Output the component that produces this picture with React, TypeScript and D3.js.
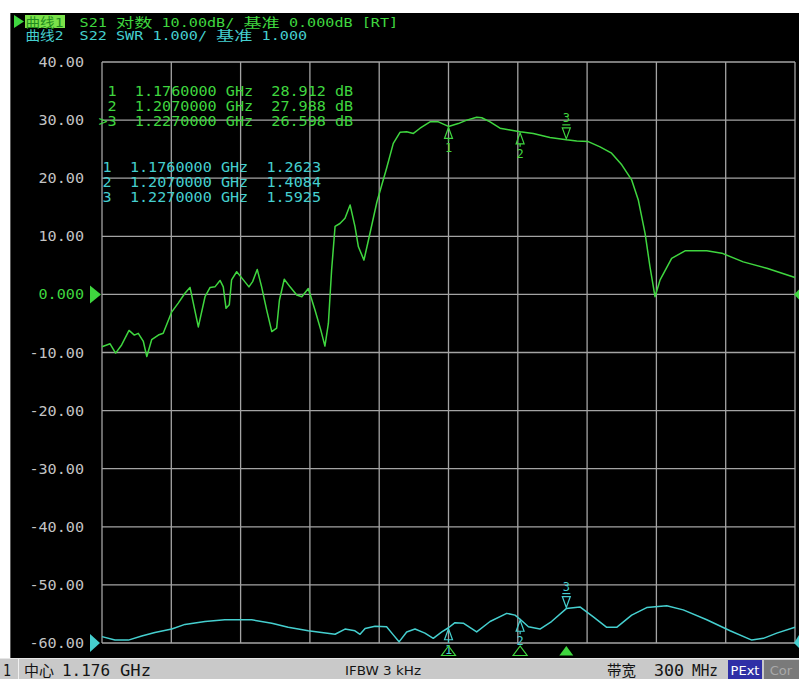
import * as d3 from "d3";

const W = 799;
const H = 679;
const P = { left: 102, right: 795, top: 62, bottom: 643 };
const CELL = 9.1;
const MONO = "'DejaVu Sans Mono', 'Noto Sans CJK SC', monospace";

const GREEN = "#3fd63f";
const CYAN = "#45cfcf";
const GRID = "#a4a4a4";

// sweep: centre 1.176 GHz, span 300 MHz
const START_MHZ = 1026;
const STOP_MHZ = 1326;
const gridFreqs = d3.range(START_MHZ, STOP_MHZ + 1, 30);

const dbTicks = [40, 30, 20, 10, 0, -10, -20, -30, -40, -50, -60];
const dbTickLabels = ["40.00", "30.00", "20.00", "10.00", "0.000", "-10.00", "-20.00", "-30.00", "-40.00", "-50.00", "-60.00"];

// S21, log mag (dB)
const s21Freq = [
  1026, 1029.5, 1031.9, 1034.5, 1037.7, 1040, 1041.7, 1043.9, 1045.4, 1047.5, 1050.4, 1052.5,
  1056.2, 1059, 1061.9, 1064.1, 1067.7, 1070.6, 1072.8, 1074.9, 1077.1, 1078.5, 1079.7, 1081.1,
  1082.1, 1084.3, 1087.2, 1089.6, 1091.2, 1093.2, 1095.1, 1097.3, 1099.5, 1101.6, 1102.8, 1104.9,
  1107.4, 1110.3, 1112.5, 1115.3, 1118.2, 1120.7, 1122.5, 1124, 1125.4, 1126.9, 1129, 1131.2,
  1133.4, 1135.5, 1137, 1139.4, 1141.6, 1145, 1149.2, 1152.1, 1155, 1157.9, 1160.8, 1163.7,
  1168, 1171.6, 1176, 1180.2, 1183.9, 1188.2, 1190.4, 1194, 1198.3, 1202.6, 1207, 1212.7,
  1219.9, 1227, 1231.5, 1236.5, 1241.6, 1246.6, 1251, 1255.3, 1258.2, 1261.1, 1263.2, 1265.4,
  1267.6, 1272.6, 1278.4, 1287.8, 1294.3, 1303.6, 1313.8, 1326,
];
const s21Db = [
  -9.0, -8.5, -10.1, -8.7, -6.2, -7.0, -6.7, -8.1, -10.7, -7.8, -7.0, -6.7,
  -3.0, -1.5, 0.2, 1.2, -5.6, -0.4, 1.2, 1.3, 2.4, 1.3, -2.4, -1.8,
  2.5, 3.9, 2.5, 1.3, 2.2, 4.3, 1.3, -2.7, -6.4, -5.8, -1.0, 2.6,
  1.3, -0.1, -0.4, 1.0, -2.7, -6.1, -8.9, -5.0, 4.2, 11.7, 12.2, 13.1,
  15.4, 11.7, 8.2, 5.9, 9.8, 15.9, 21.7, 26.0, 27.9, 28.0, 27.7, 28.6,
  29.7, 29.7, 28.912, 29.4, 30.0, 30.5, 30.4, 29.7, 28.6, 28.3, 27.988, 27.7,
  27.0, 26.598, 26.4, 26.3, 25.4, 24.3, 22.3, 19.7, 16.2, 10.5, 4.8, -0.4,
  2.5, 6.2, 7.5, 7.5, 7.1, 5.6, 4.5, 2.9,
];

// S22, SWR
const s22Freq = [
  1026, 1031.6, 1037.4, 1043.2, 1048.9, 1056.2, 1061.9, 1070.6, 1079.2, 1090.8, 1099.5, 1106.6,
  1115.3, 1121.1, 1126.9, 1131.2, 1135.5, 1137.7, 1139.9, 1144.2, 1149.2, 1152.1, 1154.6, 1157.9,
  1161.5, 1165.8, 1169.4, 1173.1, 1176, 1178.8, 1182.4, 1188.2, 1194, 1201.2, 1204.8, 1207,
  1210.6, 1215.6, 1220.6, 1227, 1232.9, 1238.7, 1244.5, 1248.8, 1255.3, 1261.8, 1270.5, 1277.6,
  1287.8, 1297.9, 1307.3, 1312.3, 1318.1, 1326,
];
const s22Swr = [
  1.11, 1.05, 1.05, 1.12, 1.18, 1.24, 1.32, 1.37, 1.4, 1.4, 1.34, 1.27,
  1.21, 1.18, 1.15, 1.24, 1.21, 1.15, 1.25, 1.29, 1.28, 1.14, 1.02, 1.19,
  1.24, 1.17, 1.08, 1.19, 1.2623, 1.35, 1.34, 1.19, 1.37, 1.51, 1.48, 1.4084,
  1.28, 1.24, 1.37, 1.5925, 1.62, 1.45, 1.27, 1.27, 1.48, 1.61, 1.64, 1.57,
  1.4, 1.21, 1.05, 1.08, 1.17, 1.27,
];

const markerIds = [1, 2, 3];
const markerFreq = [1176, 1207, 1227];
const markerS21 = [28.912, 27.988, 26.598];
const markerS22 = [1.2623, 1.4084, 1.5925];
const activeMarker = 3;

const x = d3.scaleLinear().domain([START_MHZ, STOP_MHZ]).range([P.left, P.right]);
const yDb = d3.scaleLinear().domain([-60, 40]).range([P.bottom, P.top]);
const ySwr = d3.scaleLinear().domain([1, 11]).range([P.bottom, P.top]);

// lay text on a fixed character grid (CJK takes two cells), like the analyser screen
function MonoText({ x: x0, y, text, fill, anchor = "start", size = 14 }: {
  x: number; y: number; text: string; fill: string; anchor?: "start" | "end"; size?: number;
}) {
  const runs: { s: string; c0: number; c1: number }[] = [];
  let col = 0;
  let buf = "";
  let start = 0;
  const flush = () => {
    if (buf) runs.push({ s: buf, c0: start, c1: col });
    buf = "";
  };
  for (const ch of text) {
    if (ch === " ") {
      flush();
      col += 1;
      continue;
    }
    if (!buf) start = col;
    buf += ch;
    col += ch.charCodeAt(0) > 0x2e7f ? 2 : 1;
  }
  flush();
  const left = anchor === "end" ? x0 - col * CELL : x0;
  return (
    <g fill={fill} fontFamily={MONO} fontSize={size}>
      {runs.map((r, i) => (
        <text key={i} x={left + r.c0 * CELL} y={y} textLength={(r.c1 - r.c0) * CELL} lengthAdjust="spacingAndGlyphs">
          {r.s}
        </text>
      ))}
    </g>
  );
}

function Marker({ px, py, id, active, color }: { px: number; py: number; id: number; active: boolean; color: string }) {
  if (active) {
    return (
      <g stroke={color} fill="none" strokeWidth={1.2}>
        <path d={`M${px},${py - 1} L${px - 4},${py - 12} L${px + 4},${py - 12} Z`} />
        <line x1={px - 4} x2={px + 4} y1={py - 15} y2={py - 15} />
        <text x={px} y={py - 18} textAnchor="middle" fontFamily={MONO} fontSize={12} fill={color} stroke="none">
          {id}
        </text>
      </g>
    );
  }
  return (
    <g stroke={color} fill="none" strokeWidth={1.2}>
      <path d={`M${px},${py + 1} L${px - 4},${py + 12} L${px + 4},${py + 12} Z`} />
      <line x1={px} x2={px} y1={py + 12} y2={py + 15} />
      <text x={px} y={py + 26} textAnchor="middle" fontFamily={MONO} fontSize={12} fill={color} stroke="none">
        {id}
      </text>
    </g>
  );
}

export default function App() {
  const s21Path =
    d3.line<number>().x((_, i) => x(s21Freq[i])).y((d) => yDb(d))(s21Db) ?? "";
  const s22Path =
    d3.line<number>().x((_, i) => x(s22Freq[i])).y((d) => ySwr(d))(s22Swr) ?? "";

  const fmtF = (f: number) => (f / 1000).toFixed(7);

  return (
    <svg width={W} height={H} viewBox={`0 0 ${W} ${H}`} style={{ position: "absolute", left: 0, top: 0 }}>
      <rect x={0} y={0} width={W} height={H} fill="#ffffff" />
      {/* screen */}
      <rect x={10} y={13} width={W - 10} height={645} fill="#000000" />
      <line x1={10.5} x2={10.5} y1={13} y2={658} stroke="#5a5a5a" />

      {/* header */}
      <path d="M14,15 L24,21.5 L14,28 Z" fill={GREEN} />
      <rect x={25} y={15} width={40} height={13} fill="#7be24a" />
      <text x={25.5} y={26.5} fontFamily={MONO} fontSize={13} fill="#1f8a1f" textLength={38} lengthAdjust="spacingAndGlyphs">
        曲线1
      </text>
      <MonoText x={25} y={26.5} text="      S21 对数 10.00dB/ 基准 0.000dB [RT]" fill={GREEN} size={13} />
      <text x={25.5} y={40} fontFamily={MONO} fontSize={13} fill={CYAN} textLength={38} lengthAdjust="spacingAndGlyphs">
        曲线2
      </text>
      <MonoText x={25} y={40} text="      S22 SWR 1.000/ 基准 1.000" fill={CYAN} size={13} />

      {/* grid */}
      <g stroke={GRID} strokeWidth={1.3}>
        {dbTicks.map((t) => (
          <line key={`h${t}`} x1={P.left} x2={P.right} y1={yDb(t)} y2={yDb(t)} />
        ))}
        {gridFreqs.map((f) => (
          <line key={`v${f}`} x1={x(f)} x2={x(f)} y1={P.top} y2={P.bottom} />
        ))}
      </g>

      {/* y labels */}
      {dbTicks.map((t, i) => (
        <MonoText key={`l${t}`} x={84} y={yDb(t) + 5} text={dbTickLabels[i]} fill={t === 0 ? GREEN : "#c4c4c4"} anchor="end" />
      ))}
      <path d={`M90,${yDb(0) - 9} L101,${yDb(0)} L90,${yDb(0) + 9} Z`} fill={GREEN} />
      <path d={`M90,${ySwr(1) - 9} L100,${ySwr(1)} L90,${ySwr(1) + 9} Z`} fill={CYAN} />
      <path d={`M799,${yDb(0) - 5} L794,${yDb(0)} L799,${yDb(0) + 5} Z`} fill={GREEN} />
      <path d={`M799,${ySwr(1) - 8} L794,${ySwr(1)} L799,${ySwr(1) + 5} Z`} fill={CYAN} />

      {/* marker tables */}
      {markerIds.map((id, i) => (
        <MonoText
          key={`g${id}`}
          x={98.4}
          y={96 + i * 15}
          text={`${id === activeMarker ? ">" : " "}${id}  ${fmtF(markerFreq[i])} GHz  ${markerS21[i].toFixed(3)} dB`}
          fill={GREEN}
        />
      ))}
      {markerIds.map((id, i) => (
        <MonoText
          key={`c${id}`}
          x={102.6}
          y={172 + i * 15}
          text={`${id}  ${fmtF(markerFreq[i])} GHz  ${markerS22[i].toFixed(4)}`}
          fill={CYAN}
        />
      ))}

      {/* traces */}
      <path d={s22Path} fill="none" stroke={CYAN} strokeWidth={1.5} strokeLinejoin="round" />
      <path d={s21Path} fill="none" stroke={GREEN} strokeWidth={1.5} strokeLinejoin="round" />

      {/* markers on traces */}
      {markerIds.map((id, i) => (
        <Marker key={`m21${id}`} px={x(markerFreq[i])} py={yDb(markerS21[i])} id={id} active={id === activeMarker} color={GREEN} />
      ))}
      {markerIds.map((id, i) => (
        <Marker key={`m22${id}`} px={x(markerFreq[i])} py={ySwr(markerS22[i])} id={id} active={id === activeMarker} color={CYAN} />
      ))}

      {/* stimulus markers under the grid */}
      {markerIds.map((id, i) => {
        const px = x(markerFreq[i]);
        const d = `M${px},646 L${px - 7},655.5 L${px + 7},655.5 Z`;
        return id === activeMarker ? (
          <path key={`b${id}`} d={d} fill={GREEN} />
        ) : (
          <path key={`b${id}`} d={d} fill="none" stroke={GREEN} strokeWidth={1.2} />
        );
      })}

      {/* status bar */}
      <rect x={0} y={658} width={W} height={21} fill="#c9c9c9" />
      <line x1={0} x2={W} y1={658.5} y2={658.5} stroke="#e6e6e6" />
      <line x1={18.5} x2={18.5} y1={659} y2={679} stroke="#f0f0f0" />
      <g fill="#141414" fontFamily={MONO} fontSize={15}>
        <text x={3} y={676} textLength={8} lengthAdjust="spacingAndGlyphs">1</text>
        <text x={24} y={676} textLength={30} lengthAdjust="spacingAndGlyphs">中心</text>
        <text x={62} y={676} textLength={48} lengthAdjust="spacingAndGlyphs">1.176</text>
        <text x={120} y={676} textLength={31} lengthAdjust="spacingAndGlyphs">GHz</text>
        <text x={607} y={676} textLength={29} lengthAdjust="spacingAndGlyphs">带宽</text>
        <text x={654} y={676} textLength={30} lengthAdjust="spacingAndGlyphs">300</text>
        <text x={692} y={676} textLength={26} lengthAdjust="spacingAndGlyphs">MHz</text>
      </g>
      <text x={345} y={675} fontFamily="'DejaVu Sans', sans-serif" fontSize={12} fill="#141414" textLength={76} lengthAdjust="spacingAndGlyphs">
        IFBW 3 kHz
      </text>
      <rect x={728} y={660} width={34} height={19} fill="#2f2fa6" />
      <text x={745} y={675} textAnchor="middle" fontFamily="'DejaVu Sans', sans-serif" fontSize={13} fill="#ffffff">
        PExt
      </text>
      <rect x={764} y={660} width={35} height={19} fill="#7a7a7a" />
      <text x={781} y={675} textAnchor="middle" fontFamily="'DejaVu Sans', sans-serif" fontSize={13} fill="#a9a9a9">
        Cor
      </text>
    </svg>
  );
}
